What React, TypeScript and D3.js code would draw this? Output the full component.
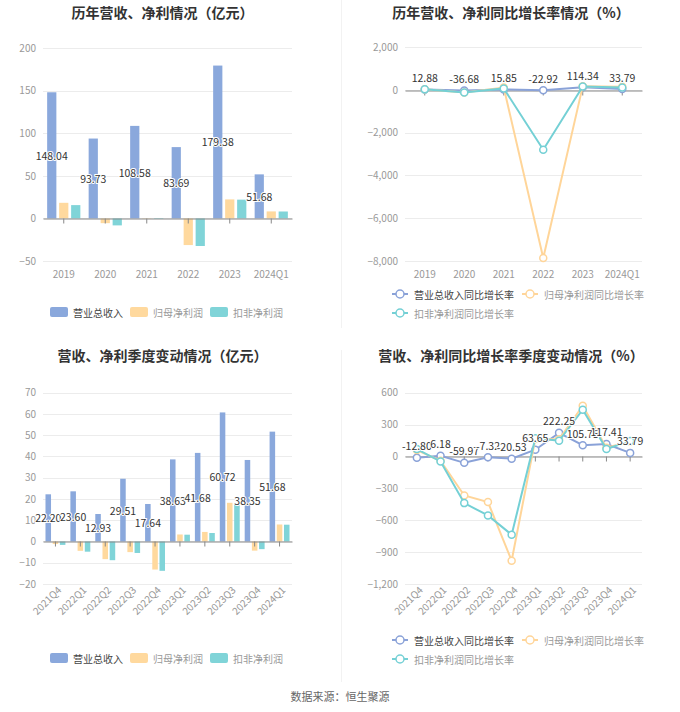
import React, { useEffect, useRef } from "react";
import * as d3 from "d3";

// annual data
const years = ["2019", "2020", "2021", "2022", "2023", "2024Q1"];
const annualRevenue = [148.04, 93.73, 108.58, 83.69, 179.38, 51.68];
const annualNetProfit = [18.3, -5.6, 0.4, -31.3, 22.3, 8.2];
const annualDeducted = [15.6, -8.2, -0.6, -32.4, 22.0, 8.1];
const annualRevenueGrowth = [12.88, -36.68, 15.85, -22.92, 114.34, 33.79];
const annualNetProfitGrowth = [25, -130, 108, -7860, 171, 140];
const annualDeductedGrowth = [20, -121, 65, -2800, 159, 112];
const annualAmountTicks = [-50, 0, 50, 100, 150, 200];
const annualGrowthTicks = [-8000, -6000, -4000, -2000, 0, 2000];

// quarterly data
const quarters = ["2021Q4", "2022Q1", "2022Q2", "2022Q3", "2022Q4", "2023Q1", "2023Q2", "2023Q3", "2023Q4", "2024Q1"];
const quarterRevenue = [22.2, 23.6, 12.93, 29.51, 17.64, 38.63, 41.68, 60.72, 38.35, 51.68];
const quarterNetProfit = [-1.2, -4.4, -8.3, -5.0, -13.2, 3.3, 4.5, 18.2, -4.3, 8.0];
const quarterDeducted = [-1.6, -4.8, -8.8, -5.4, -13.8, 3.2, 4.0, 17.9, -3.6, 7.9];
const quarterRevenueGrowth = [-12.8, 6.18, -59.97, -7.32, -20.53, 63.65, 222.25, 105.75, 117.41, 33.79];
const quarterNetProfitGrowth = [60, -40, -367, -429, -981, 165, 162, 477, 82, 140];
const quarterDeductedGrowth = [70, -47, -439, -555, -736, 172, 148, 440, 70, 145];
const quarterAmountTicks = [-20, -10, 0, 10, 20, 30, 40, 50, 60, 70];
const quarterGrowthTicks = [-1200, -900, -600, -300, 0, 300, 600];

const barNames = ["营业总收入", "归母净利润", "扣非净利润"];
const lineNames = ["营业总收入同比增长率", "归母净利润同比增长率", "扣非净利润同比增长率"];

const BLUE = "#8aa8dc";
const ORANGE = "#ffd99e";
const TEAL = "#80d4d8";
const LINE_BLUE = "#8aa2d8";
const LINE_ORANGE = "#ffd599";
const LINE_TEAL = "#74d0d5";
const FONT = "'Noto Sans CJK SC', 'Noto Sans', sans-serif";

const App = () => {
  const svgRef = useRef<SVGSVGElement>(null);

  useEffect(() => {
    const svg = d3.select(svgRef.current);
    svg.selectAll("*").remove();
    svg.style("font-family", FONT);

    svg.append("rect").attr("width", 680).attr("height", 712).attr("fill", "#fff");

    // panel dividers
    svg.append("line").attr("x1", 341.5).attr("x2", 341.5).attr("y1", 0).attr("y2", 328).attr("stroke", "#f2f2f2");
    svg.append("line").attr("x1", 341.5).attr("x2", 341.5).attr("y1", 350).attr("y2", 682).attr("stroke", "#f2f2f2");

    const title = (x: number, y: number, t: string) =>
      svg.append("text").attr("x", x).attr("y", y).attr("text-anchor", "middle")
        .attr("dominant-baseline", "central").attr("font-size", 14).attr("font-weight", "bold")
        .attr("fill", "#333").text(t);

    const yAxis = (g: any, y: any, ticks: number[], left: number, right: number) => {
      g.append("g").selectAll("line").data(ticks).enter().append("line")
        .attr("x1", left).attr("x2", right)
        .attr("y1", (d: number) => Math.round(y(d)) + 0.5).attr("y2", (d: number) => Math.round(y(d)) + 0.5)
        .attr("stroke", "#ececec");
      const ax = g.append("g").attr("transform", `translate(${left},0)`)
        .call(d3.axisLeft(y).tickValues(ticks).tickSize(0).tickPadding(7).tickFormat(d3.format(",")));
      ax.select(".domain").remove();
      ax.selectAll("text").attr("font-size", 10).attr("fill", "#999").attr("font-family", FONT);
    };

    const xAxes = (g: any, x: any, y: any, bottom: number, rotate: boolean) => {
      const zero = g.append("g").attr("transform", `translate(0,${Math.round(y(0)) + 0.5})`)
        .call(d3.axisBottom(x).tickSize(5).tickSizeOuter(0).tickFormat(() => ""));
      zero.select(".domain").attr("stroke", "#888");
      zero.selectAll(".tick line").attr("stroke", "#888");
      const lab = g.append("g").attr("transform", `translate(0,${bottom})`)
        .call(d3.axisBottom(x).tickSize(0).tickPadding(rotate ? 6 : 10));
      lab.select(".domain").remove();
      const txt = lab.selectAll("text").attr("font-size", 10).attr("fill", "#999").attr("font-family", FONT);
      if (rotate) {
        txt.attr("text-anchor", "end").attr("dy", "0.35em").attr("transform", "rotate(-45)");
      }
    };

    const valueLabel = (g: any, data: any[], xf: any, yf: any, tf: any) => {
      g.append("g").selectAll("text").data(data).enter().append("text")
        .attr("x", xf).attr("y", yf).attr("text-anchor", "middle").attr("dominant-baseline", "central")
        .attr("font-size", 10.5).attr("fill", "#333").attr("stroke", "#fff").attr("stroke-width", 2)
        .attr("paint-order", "stroke").text(tf);
    };

    const barLegend = (y: number) => {
      const colors = [BLUE, ORANGE, TEAL];
      barNames.forEach((n, i) => {
        const x = 50 + i * 80;
        svg.append("rect").attr("x", x).attr("y", y - 5).attr("width", 18).attr("height", 10)
          .attr("rx", 2).attr("fill", colors[i]);
        svg.append("text").attr("x", x + 23).attr("y", y).attr("dominant-baseline", "central")
          .attr("font-size", 10).attr("fill", i === 0 ? "#444" : "#999").text(n);
      });
    };

    const lineLegend = (y: number) => {
      const colors = [LINE_BLUE, LINE_ORANGE, LINE_TEAL];
      const pos = [[392, y], [522, y], [392, y + 19]];
      lineNames.forEach((n, i) => {
        const [x, yy] = pos[i];
        svg.append("line").attr("x1", x).attr("x2", x + 16).attr("y1", yy).attr("y2", yy)
          .attr("stroke", colors[i]).attr("stroke-width", 2);
        svg.append("circle").attr("cx", x + 8).attr("cy", yy).attr("r", 4)
          .attr("fill", "#fff").attr("stroke", colors[i]).attr("stroke-width", 1.5);
        svg.append("text").attr("x", x + 22).attr("y", yy).attr("dominant-baseline", "central")
          .attr("font-size", 10).attr("fill", i === 0 ? "#444" : "#999").text(n);
      });
    };

    const barPanel = (cats: string[], series: number[][], ticks: number[], top: number, bottom: number, rotate: boolean) => {
      const left = 43, right = 292;
      const g = svg.append("g");
      const y = d3.scaleLinear().domain([ticks[0], ticks[ticks.length - 1]]).range([bottom, top]);
      const x = d3.scaleBand().domain(cats).range([left, right]).padding(0);
      const bw = x.bandwidth();
      const xs = d3.scaleBand().domain(barNames).range([bw * 0.1, bw * 0.9]).paddingInner(0.3 / 1.3);
      yAxis(g, y, ticks, left, right);
      const colors = [BLUE, ORANGE, TEAL];
      series.forEach((vals, si) => {
        g.append("g").selectAll("rect").data(vals).enter().append("rect")
          .attr("x", (_d: number, i: number) => (x(cats[i]) as number) + (xs(barNames[si]) as number))
          .attr("width", xs.bandwidth())
          .attr("y", (d: number) => y(Math.max(0, d)))
          .attr("height", (d: number) => Math.abs(y(d) - y(0)))
          .attr("fill", colors[si]);
      });
      xAxes(g, x, y, bottom, rotate);
      valueLabel(g, series[0],
        (_d: number, i: number) => (x(cats[i]) as number) + (xs(barNames[0]) as number) + xs.bandwidth() / 2,
        (d: number) => (y(d) + y(0)) / 2,
        (d: number) => d.toFixed(2));
    };

    const linePanel = (cats: string[], series: number[][], ticks: number[], top: number, bottom: number, rotate: boolean) => {
      const left = 405, right = 642;
      const g = svg.append("g");
      const y = d3.scaleLinear().domain([ticks[0], ticks[ticks.length - 1]]).range([bottom, top]);
      const x = d3.scaleBand().domain(cats).range([left, right]).padding(0);
      const cx = (i: number) => (x(cats[i]) as number) + x.bandwidth() / 2;
      yAxis(g, y, ticks, left, right);
      xAxes(g, x, y, bottom, rotate);
      const colors = [LINE_BLUE, LINE_ORANGE, LINE_TEAL];
      const line = d3.line<number>().x((_d, i) => cx(i)).y((d) => y(d));
      series.forEach((vals, si) => {
        g.append("path").datum(vals).attr("d", line).attr("fill", "none")
          .attr("stroke", colors[si]).attr("stroke-width", 2);
        g.append("g").selectAll("circle").data(vals).enter().append("circle")
          .attr("cx", (_d: number, i: number) => cx(i)).attr("cy", (d: number) => y(d)).attr("r", 3.5)
          .attr("fill", "#fff").attr("stroke", colors[si]).attr("stroke-width", 1.5);
      });
      valueLabel(g, series[0], (_d: number, i: number) => cx(i), (d: number) => y(d) - 12,
        (d: number) => d.toFixed(2));
    };

    // top-left
    title(162.5, 12, "历年营收、净利情况（亿元）");
    barPanel(years, [annualRevenue, annualNetProfit, annualDeducted], annualAmountTicks, 48, 261, false);
    barLegend(312);

    // top-right
    title(511, 12, "历年营收、净利同比增长率情况（%）");
    linePanel(years, [annualRevenueGrowth, annualNetProfitGrowth, annualDeductedGrowth], annualGrowthTicks, 47, 261, false);
    lineLegend(294);

    // bottom-left
    title(162.5, 355, "营收、净利季度变动情况（亿元）");
    barPanel(quarters, [quarterRevenue, quarterNetProfit, quarterDeducted], quarterAmountTicks, 392.7, 584, true);
    barLegend(658);

    // bottom-right
    title(511, 355, "营收、净利同比增长率季度变动情况（%）");
    linePanel(quarters, [quarterRevenueGrowth, quarterNetProfitGrowth, quarterDeductedGrowth], quarterGrowthTicks, 392.7, 584, true);
    lineLegend(640);

    svg.append("text").attr("x", 340).attr("y", 696).attr("text-anchor", "middle")
      .attr("dominant-baseline", "central").attr("font-size", 11).attr("fill", "#666")
      .text("数据来源：恒生聚源");
  }, []);

  return (
    <svg ref={svgRef} width={680} height={712} style={{ position: "absolute", left: 0, top: 0 }}></svg>
  );
};

export default App;
